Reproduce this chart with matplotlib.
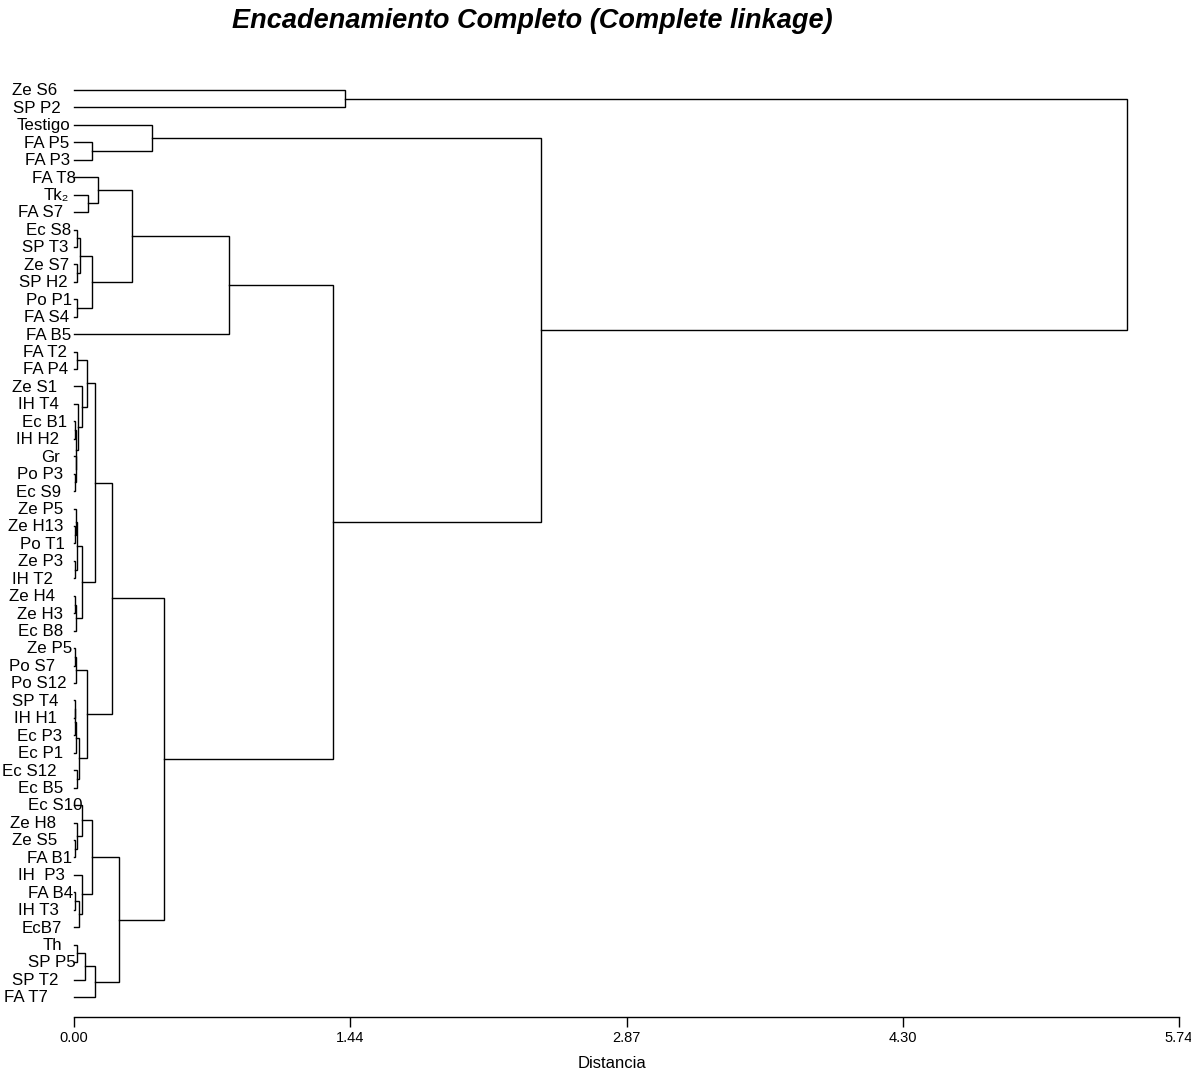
import matplotlib
matplotlib.use("Agg")
import matplotlib.pyplot as plt
from matplotlib.transforms import blended_transform_factory

plt.rcParams["font.family"] = ["Liberation Sans", "DejaVu Sans"]

# leaves, top to bottom
labels = ["Ze S6", "SP P2", "Testigo", "FA P5", "FA P3", "FA T8", "Tk\u2082", "FA S7",
          "Ec S8", "SP T3", "Ze S7", "SP H2", "Po P1", "FA S4", "FA B5",
          "FA T2", "FA P4", "Ze S1", "IH T4", "Ec B1", "IH H2", "Gr", "Po P3", "Ec S9",
          "Ze P5", "Ze H13", "Po T1", "Ze P3", "IH T2", "Ze H4", "Ze H3", "Ec B8",
          "Ze P5", "Po S7", "Po S12", "SP T4", "IH H1", "Ec P3", "Ec P1", "Ec S12", "Ec B5",
          "Ec S10", "Ze H8", "Ze S5", "FA B1", "IH  P3", "FA B4", "IH T3", "EcB7",
          "Th", "SP P5", "SP T2", "FA T7"]

# merges: (new cluster, child a, child b, distance); ints are leaf indices
merges = [
    ("ze", 0, 1, 1.408),
    ("fap", 3, 4, 0.094),
    ("test", 2, "fap", 0.405),
    ("tk", 6, 7, 0.073),
    ("fat8", 5, "tk", 0.125),
    ("ec8", 8, 9, 0.016),
    ("ze7", 10, 11, 0.016),
    ("ec8b", "ec8", "ze7", 0.031),
    ("po1", 12, 13, 0.016),
    ("ec8c", "ec8b", "po1", 0.094),
    ("up", "fat8", "ec8c", 0.301),
    ("up2", "up", 14, 0.805),
    ("a1", 15, 16, 0.016),
    ("a2", 22, 23, 0.006),
    ("a3", 21, "a2", 0.008),
    ("a4", 19, 20, 0.004),
    ("a5", "a4", "a3", 0.012),
    ("a6", 18, "a5", 0.020),
    ("a7", 17, "a6", 0.042),
    ("a8", "a1", "a7", 0.068),
    ("b1", 25, 26, 0.004),
    ("b2", 24, "b1", 0.010),
    ("b3", 27, 28, 0.006),
    ("b4", "b2", "b3", 0.014),
    ("b5", 29, 30, 0.006),
    ("b6", "b5", 31, 0.012),
    ("b7", "b4", "b6", 0.042),
    ("c1x", "a8", "b7", 0.109),
    ("c1", 32, 33, 0.004),
    ("c2", "c1", 34, 0.008),
    ("c3", 35, 36, 0.003),
    ("c4", "c3", 37, 0.006),
    ("c5", "c4", 38, 0.010),
    ("c6", 39, 40, 0.016),
    ("c7", "c5", "c6", 0.026),
    ("c2x", "c2", "c7", 0.068),
    ("c12", "c1x", "c2x", 0.197),
    ("d1", 43, 44, 0.004),
    ("d2", 42, "d1", 0.016),
    ("d3", 41, "d2", 0.042),
    ("d4", 46, 47, 0.004),
    ("d5", "d4", 48, 0.026),
    ("d6", 45, "d5", 0.042),
    ("d7", "d3", "d6", 0.094),
    ("e1", 49, 50, 0.016),
    ("e2", "e1", 51, 0.057),
    ("e3", "e2", 52, 0.109),
    ("c3x", "d7", "e3", 0.234),
    ("bot", "c12", "c3x", 0.468),
    ("mid", "up2", "bot", 1.345),
    ("mid2", "test", "mid", 2.426),
    ("root", "ze", "mid2", 5.470),
]

tick_vals = [0.0, 1.435, 2.87, 4.305, 5.74]
tick_text = ["0.00", "1.44", "2.87", "4.30", "5.74"]

# right edge of each leaf label, in figure pixels
label_right = [57, 61, 70, 69, 70, 76, 69, 63,
               71, 68, 69, 68, 72, 69, 71,
               67, 68, 57, 59, 67, 59, 60, 63, 61,
               63, 63, 65, 63, 53, 55, 63, 63,
               72, 55, 67, 58, 57, 62, 63, 57, 63,
               83, 56, 57, 72, 65, 73, 59, 62,
               62, 76, 59, 48]

W, H = 1191, 1084
fig = plt.figure(figsize=(W / 100, H / 100), dpi=100)
ax = fig.add_axes([74 / W, 1 - 1017 / H, 1105 / W, (1017 - 79) / H])

pos = {i: (float(i), 0.0) for i in range(len(labels))}
for name, a, b, h in merges:
    ya, ha = pos[a]
    yb, hb = pos[b]
    ax.plot([ha, h, h, hb], [ya, ya, yb, yb], color="black", lw=1.0,
            solid_joinstyle="miter", clip_on=False)
    pos[name] = ((ya + yb) / 2, h)

trans = blended_transform_factory(fig.transFigure, ax.transData)
for i, lab in enumerate(labels):
    ax.text(label_right[i] / W, i + 0.05, lab, transform=trans, ha="right", va="center",
            fontsize=12.2)

ax.set_xlim(0, 5.74)
ax.set_ylim(53.15, -0.63)
for s in ["top", "right", "left"]:
    ax.spines[s].set_visible(False)
ax.spines["bottom"].set_linewidth(1.0)
ax.set_yticks([])
ax.set_xticks(tick_vals)
ax.set_xticklabels(tick_text, fontsize=10.5)
ax.tick_params(axis="x", length=7, width=1.0, pad=3)

fig.text(612 / W, 1 - 1063 / H, "Distancia", ha="center", va="center", fontsize=12)
fig.text(532 / W, 1 - 21 / H, "Encadenamiento Completo (Complete linkage)",
         ha="center", va="center", fontsize=19.5, fontweight="bold", fontstyle="italic")

fig.savefig("out.png", dpi=100)
